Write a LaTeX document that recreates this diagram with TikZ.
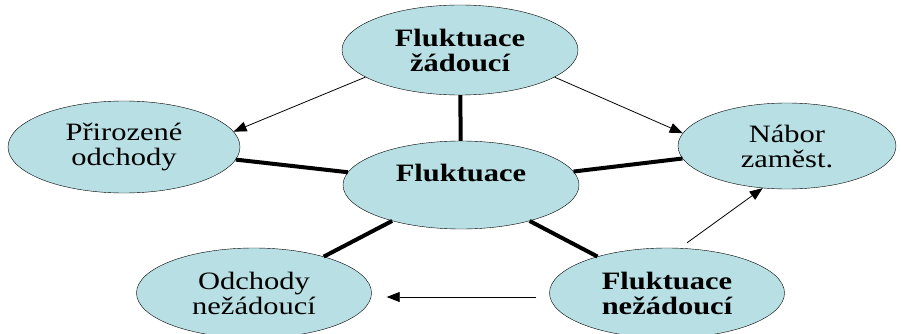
\documentclass[tikz,border=0pt]{standalone}
\usepackage{fontspec}
\setmainfont{Liberation Serif}[FakeStretch=1.22]
\usetikzlibrary{shapes.geometric,arrows.meta}
\definecolor{oval}{RGB}{184,223,227}

\begin{document}
\begin{tikzpicture}[x=1pt,y=-1pt,
  every node/.style = {shape=ellipse, draw, fill=oval, inner sep=0pt,
    align=center, font=\fontsize{25}{25}\selectfont},
  bold/.style = {font=\fontsize{25}{25}\selectfont\bfseries},
  spoke/.style = {line width=4pt},
  arr/.style = {-{Triangle[length=13pt,width=10pt]}, line width=0.8pt}]
  \useasboundingbox (0,0) rectangle (901,334);
  \clip (0,0) rectangle (901,334);
  \node[bold, minimum width=236pt, minimum height=90pt] (zad) at (460,50) {Fluktuace\\žádoucí};
  \node[minimum width=232pt, minimum height=92pt] (prir) at (124,147) {Přirozené\\odchody};
  \node[bold, minimum width=236pt, minimum height=88pt] (fl) at (461,185) {Fluktuace\\\mbox{}};
  \node[minimum width=218pt, minimum height=86pt] (nabor) at (787,146) {Nábor\\zaměst.};
  \node[minimum width=235pt, minimum height=90pt] (odch) at (254,293) {Odchody\\nežádoucí};
  \node[bold, minimum width=235pt, minimum height=90pt] (nez) at (667,293) {Fluktuace\\nežádoucí};
  \draw[spoke] (fl) -- (zad);
  \draw[spoke] (fl) -- (prir);
  \draw[spoke] (fl) -- (nabor);
  \draw[spoke] (fl) -- (odch);
  \draw[spoke] (fl) -- (nez);
  \draw[arr] (zad.196) -- (prir.8);
  \draw[arr] (zad.344) -- (nabor.173);
  \draw[arr] ([xshift=20pt,yshift=5pt]nez.north) -- (nabor.240);
  \draw[arr] ([xshift=-13pt,yshift=-4pt]nez.west) -- ([xshift=15pt,yshift=-4pt]odch.east);
\end{tikzpicture}
\end{document}
